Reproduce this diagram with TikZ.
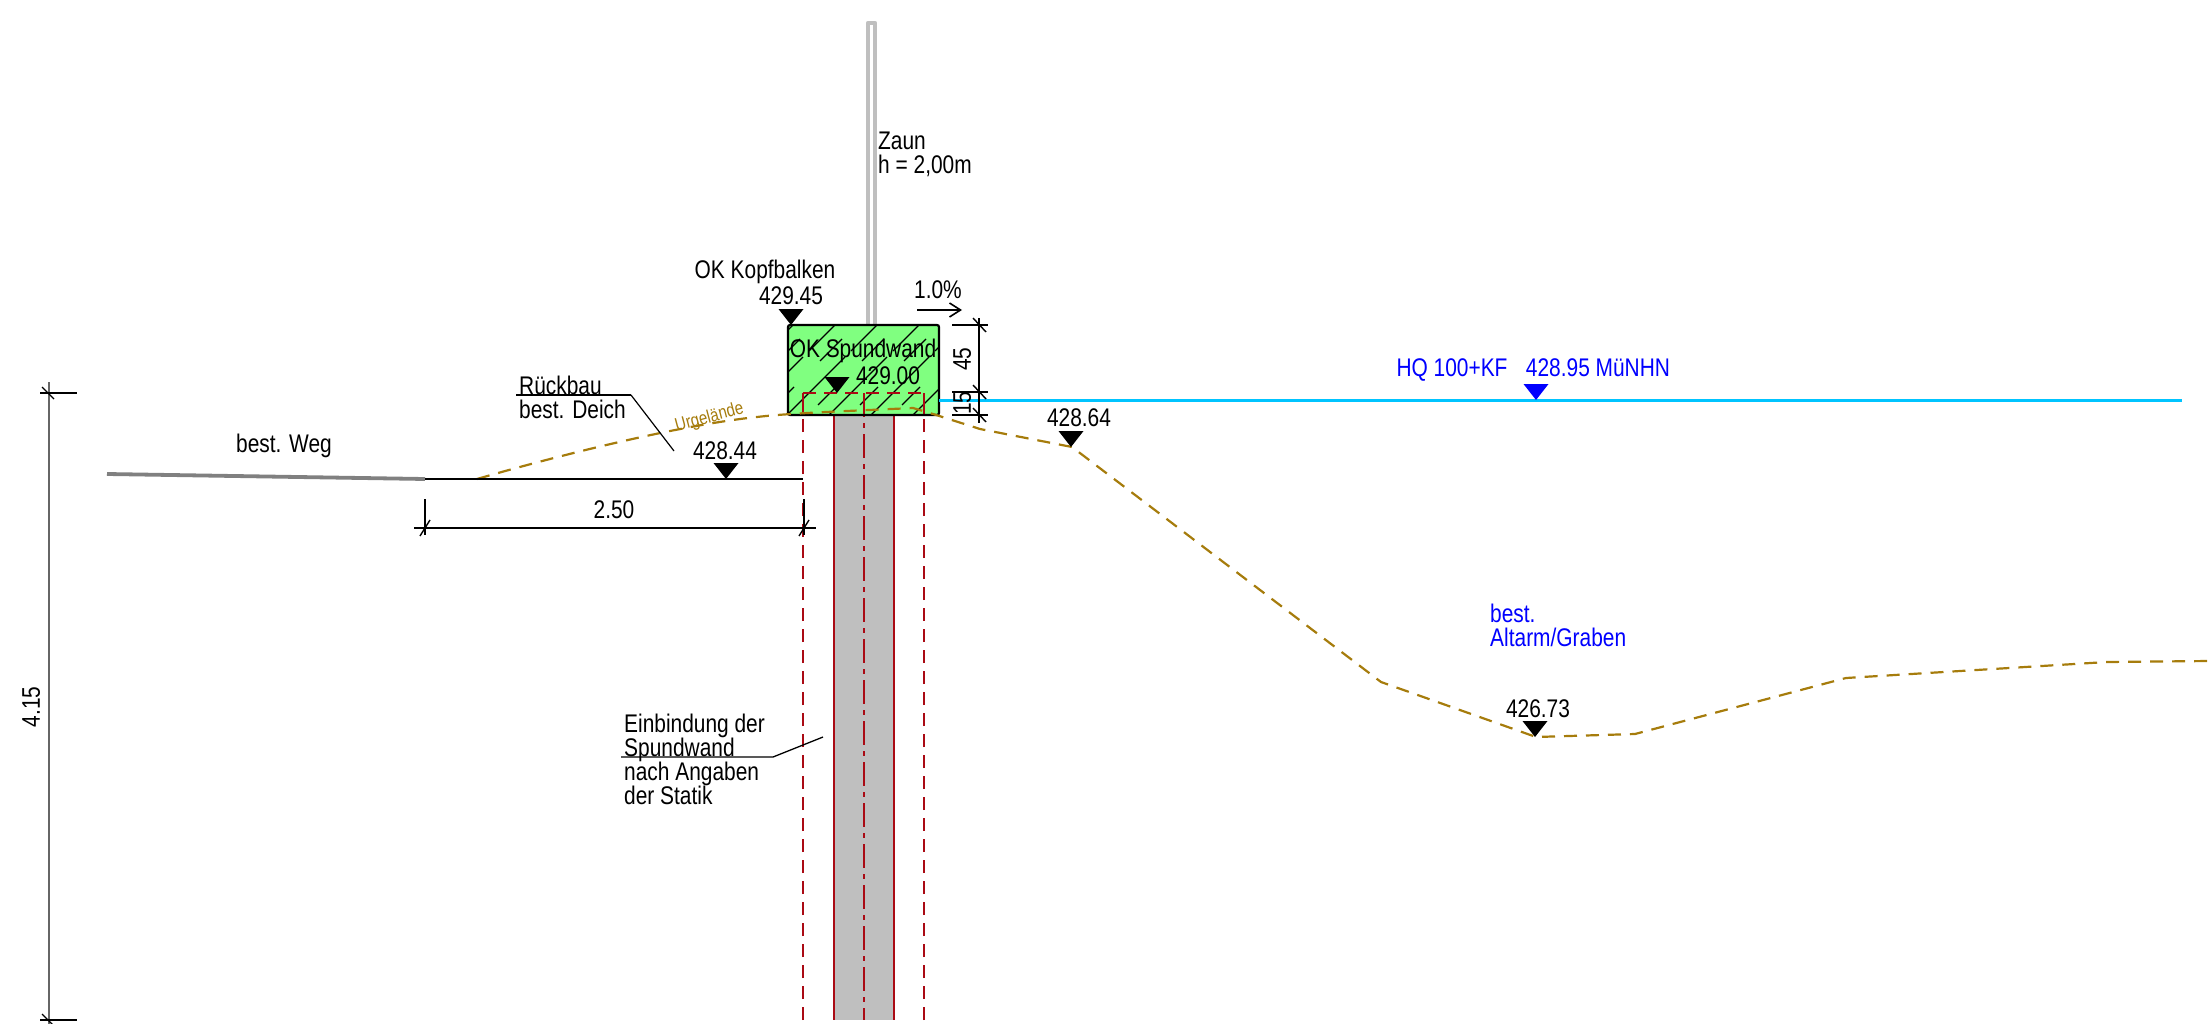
\documentclass[tikz,border=0pt]{standalone}
\usepackage{fontspec}
\setmainfont[FakeStretch=0.82]{Liberation Sans}
\usetikzlibrary{positioning,calc,arrows.meta}

\definecolor{boden}{HTML}{A67C0C}
\definecolor{wandrot}{HTML}{AA0A14}
\definecolor{beton}{HTML}{80FF80}
\definecolor{wasser}{HTML}{00C4FF}

\begin{document}
\begin{tikzpicture}[
    x=1pt, y=-1pt,
    label/.style={inner sep=0pt, font=\fontsize{25.5}{24}\selectfont, text depth=0pt},
    blau/.style={label, text=blue},
    dimline/.style={line width=2pt, black},
    tick/.style={line width=1.2pt, black},
    red/.style={line width=1.8pt, wandrot},
    reddash/.style={red, dash pattern=on 13pt off 8pt},
    ground/.style={line width=2.2pt, boden, dash pattern=on 13pt off 9pt},
    hatch/.style={line width=1.1pt, black}
]
\useasboundingbox (0,0) rectangle (2210,1024);

% Spundwand
\fill[gray!50] (834,415) rectangle (894,1020);
\draw[red] (834,393) -- (834,1020);
\draw[red] (894,393) -- (894,1020);
\draw[red, dash pattern=on 24pt off 6pt on 5pt off 6pt] (864,393) -- (864,1020);
\draw[reddash] (803,1020) -- (803,415);
\draw[reddash] (924,1020) -- (924,415);

% Zaun
\draw[line width=4.4pt, gray!50, line join=round] (868,325) -- (868,23) -- (875,23) -- (875,325);

% Kopfbalken
\fill[beton] (788,325) rectangle (939,415);
\begin{scope}
    \clip (788,325) rectangle (939,415);
    \foreach \b in {703,745,...,950} {
        \draw[hatch] (\b,415) -- ++(58,-58);
        \draw[hatch] (\b+64,351) -- ++(26,-26);
        \draw[hatch] (\b+21,415) ++(10,-10) -- ++(18,-18);
        \draw[hatch] (\b+21,415) ++(54,-54) -- ++(22,-22);
    }
\end{scope}
\draw[reddash] (803,393) -- (924,393);
\draw[red] (803,393) -- (803,415);
\draw[red] (924,393) -- (924,415);
\draw[red] (864,393) -- (864,415);
\draw[line width=2.2pt, rounded corners=2pt] (788,415) -- (788,325) -- (939,325) -- (939,415) -- cycle;

% Wasserspiegel
\draw[line width=3pt, wasser] (939,400) -- (2182,400);

% Gelaende
\draw[ground] (477,479) .. controls (560,455) and (680,425) .. (757,417)
    .. controls (790,413) and (850,411) .. (913,408)
    -- (933,414) -- (980,429) -- (1072,447) -- (1381,682) -- (1536,737)
    -- (1635,734) -- (1846,678) -- (2107,662) -- (2210,661);
\node[label, font=\fontsize{18.5}{18}\selectfont, text=boden, rotate=15] (urgelaende) at (709,416) {Urgelände};

% Weg
\draw[line width=3.8pt, gray] (107,474) -- (425,479);
\draw[line width=2.4pt] (425,479) -- (803,479);

% Hoehenmarken
\foreach \x/\y in {791/325, 837/393, 726/479, 1071/447, 1535/737} {
    \fill (\x,\y) -- ++(-12.5,-16) -- ++(25,0) -- cycle;
}
\fill[blue] (1536,400) -- ++(-12.5,-16) -- ++(25,0) -- cycle;

% Beschriftung
\node[label, anchor=west, align=left] (zaun) at (878,153) {Zaun\\h = 2,00m};
\node[label] (okkopf) at (765,269) {OK Kopfbalken};
\node[label] (kopfhoehe) at (791,296) {429.45};
\node[label] (okspund) at (863,348) {OK Spundwand};
\node[label] (spundhoehe) at (888,376) {429.00};
\node[label] (gefaelle) at (938,290) {1.0\%};
\node[label] (weg) at (284,443) {best. Weg};
\node[label, anchor=west, align=left] (rueckbau) at (519,397) {Rückbau\\best. Deich};
\node[label] (deichhoehe) at (725,451) {428.44};
\node[label] (boeschung) at (1079,418) {428.64};
\node[label] (sohle) at (1538,709) {426.73};
\node[blau] (hq) at (1452,368) {HQ 100+KF};
\node[blau] (hqhoehe) at (1598,368) {428.95 MüNHN};
\node[blau, anchor=west, align=left] (altarm) at (1490,625) {best.\\Altarm/Graben};
\node[label, anchor=west, align=left] (einbindung) at (624,759) {Einbindung der\\Spundwand\\nach Angaben\\der Statik};

% Hinweislinien
\draw[line width=1.2pt] (631,395) -- (674,451);
\draw[line width=2.2pt] (516,395) -- (631,395);
\draw[line width=1.3pt] (621,757) -- (773,757) -- (823,737);
\draw[line width=1.6pt, -{Straight Barb[length=11pt,width=14pt]}] (917,310) -- (962,310);

% Bemassung 2.50
\node[label] (dimb) at (614,510) {2.50};
\draw[dimline] (414,528) -- (816,528);
\draw[tick] (425,499) -- (425,535);
\draw[tick] (804,499) -- (804,535);
\foreach \x in {425,804} {
    \draw[line width=1.4pt] (\x-5,536) -- (\x+5,520);
}

% Bemassung 45/15
\draw[dimline] (979,318) -- (979,423);
\foreach \y in {325,392,415} {
    \draw[line width=1.6pt] (952,\y) -- (988,\y);
    \draw[line width=1.4pt] (973,\y-7) -- (986,\y+7);
}
\node[label, rotate=90] (dimo) at (962,359) {45};
\node[label, rotate=90] (dimu) at (962,403) {15};

% Bemassung 4.15
\draw[line width=1.4pt, gray!80!black] (49,382) -- (49,1024);
\foreach \y in {393,1020} {
    \draw[tick] (40,\y) -- (77,\y);
    \draw[line width=1.1pt] (42,\y-6) -- (54,\y+6);
}
\node[label, rotate=90] (dimh) at (31,707) {4.15};

\end{tikzpicture}
\end{document}
